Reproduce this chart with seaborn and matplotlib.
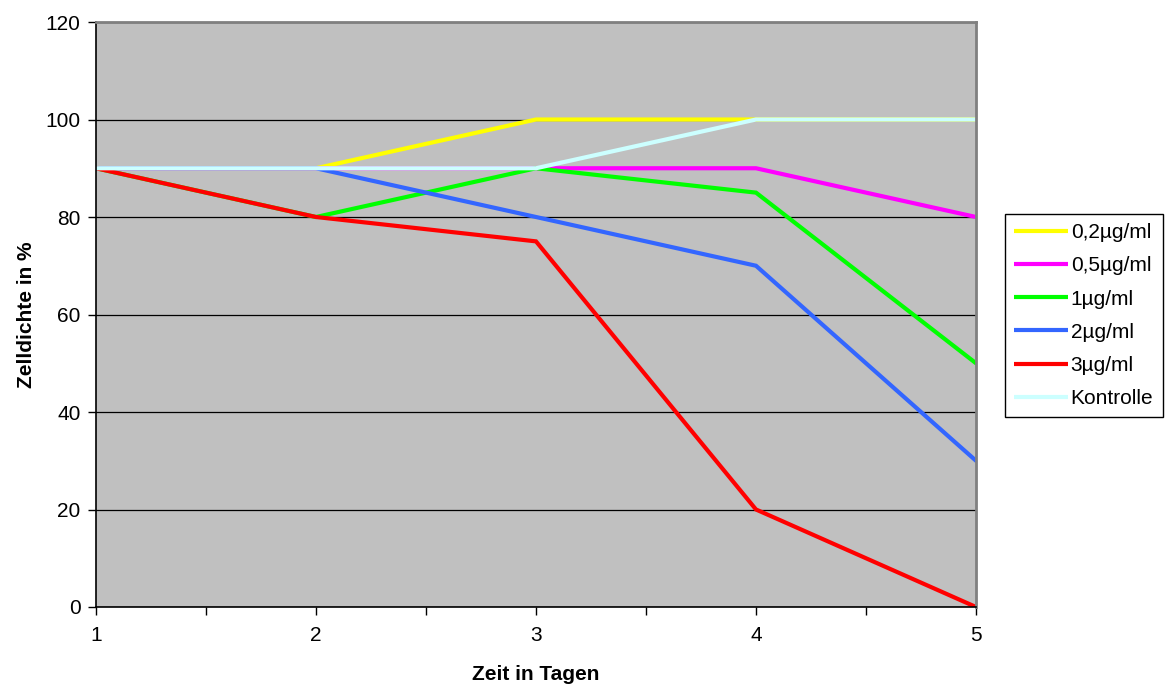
import matplotlib
matplotlib.use("Agg")
import matplotlib.pyplot as plt
import numpy as np
import pandas as pd
import seaborn as sns

# values
days = [1, 2, 3, 4, 5]
conc_02 = [90, 90, 100, 100, 100]
conc_05 = [90, 90, 90, 90, 80]
conc_1 = [90, 80, 90, 85, 50]
conc_2 = [90, 90, 80, 70, 30]
conc_3 = [90, 80, 75, 20, 0]
kontrolle = [90, 90, 90, 100, 100]

labels = ["0,2µg/ml", "0,5µg/ml", "1µg/ml", "2µg/ml", "3µg/ml", "Kontrolle"]
series = [conc_02, conc_05, conc_1, conc_2, conc_3, kontrolle]
colors = ["#FFFF00", "#FF00FF", "#00FF00", "#3366FF", "#FF0000", "#CCFFFF"]

df = pd.concat(
    [pd.DataFrame({"Tag": days, "Zelldichte": vals, "Gruppe": name})
     for name, vals in zip(labels, series)],
    ignore_index=True,
)

sns.set_theme(style="white")
plt.rcParams["font.family"] = ["Liberation Sans", "DejaVu Sans"]
plt.rcParams["font.size"] = 15
plt.rcParams["text.color"] = "black"
plt.rcParams["axes.labelcolor"] = "black"
plt.rcParams["xtick.color"] = "black"
plt.rcParams["ytick.color"] = "black"

fig = plt.figure(figsize=(11.65, 6.91), dpi=100)
ax = fig.add_axes([96 / 1165, 84 / 691, 880 / 1165, 585 / 691])
ax.set_facecolor("#C0C0C0")

sns.lineplot(
    data=df, x="Tag", y="Zelldichte", hue="Gruppe", hue_order=labels,
    palette=dict(zip(labels, colors)), linewidth=3, ax=ax,
    solid_joinstyle="miter",
)

ax.set_xlim(1, 5)
ax.set_ylim(0, 120)
ax.set_yticks(np.arange(0, 121, 20))
ax.set_xticks(days)
ax.set_xticks(np.arange(1.5, 5, 1), minor=True)
ax.tick_params(axis="both", which="both", direction="out", length=6, width=1,
               color="black", labelcolor="black", labelsize=15,
               left=True, bottom=True, pad=8)
ax.tick_params(axis="y", pad=5)
ax.yaxis.grid(True, color="black", linewidth=0.9)
ax.set_axisbelow(True)

for side in ["left", "bottom"]:
    ax.spines[side].set_color("black")
    ax.spines[side].set_linewidth(1.2)
for side in ["top", "right"]:
    ax.spines[side].set_color("#808080")
    ax.spines[side].set_linewidth(2)

ax.set_xlabel("Zeit in Tagen", fontsize=15, fontweight="bold", labelpad=14,
              color="black")
ax.set_ylabel("Zelldichte in %", fontsize=15, fontweight="bold", labelpad=7,
              color="black")

leg = ax.legend(
    loc="upper left", bbox_to_anchor=(1.033, 0.672), fontsize=15,
    frameon=True, fancybox=False, edgecolor="black", framealpha=1,
    handlelength=2.55, handletextpad=0.15, labelspacing=0.68,
    borderpad=0.45, borderaxespad=0,
)
leg.get_frame().set_linewidth(1)
for text in leg.get_texts():
    text.set_color("black")
for line in leg.get_lines():
    line.set_linewidth(3)
    line.set_solid_capstyle("butt")

fig.savefig("out.png", dpi=100)
